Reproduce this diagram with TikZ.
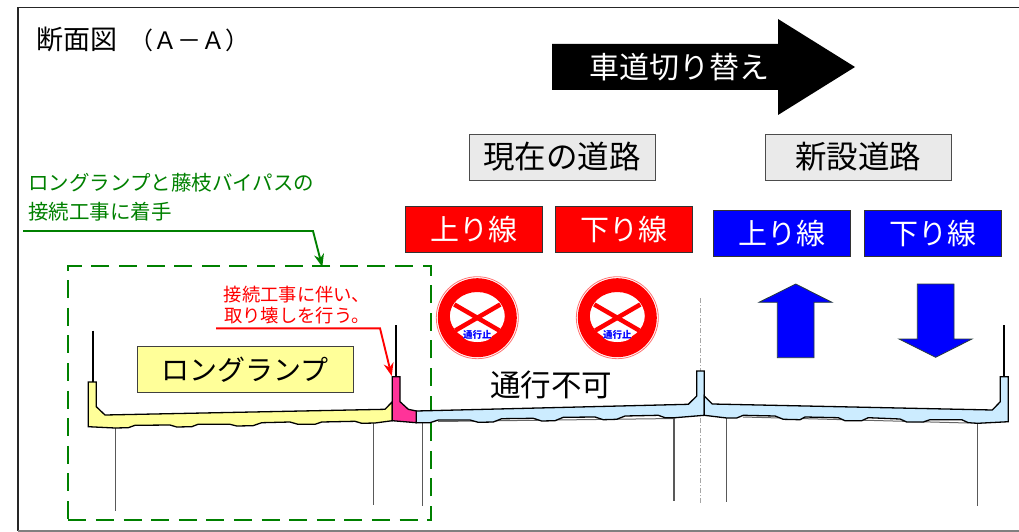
\documentclass[tikz,border=0pt]{standalone}
\usepackage{xcolor}
\usepackage{fontspec}
\setmainfont{Noto Sans CJK JP}
\usetikzlibrary{arrows.meta}
\definecolor{rpGreen}{RGB}{0, 128, 0}
\definecolor{rpRed}{RGB}{255, 0, 0}
\definecolor{rpBlue}{RGB}{0, 0, 255}
\definecolor{rpYellow}{RGB}{255, 255, 153}
\definecolor{rpSky}{RGB}{204, 236, 255}
\definecolor{rpPink}{RGB}{255, 51, 153}
\definecolor{rpLight}{RGB}{234, 234, 234}
\definecolor{rpEdge}{RGB}{40, 60, 60}
\tikzset{
    base/.style={
        align=center,
        inner sep=0pt
    },
    title/.style={
        base,
        font=\fontsize{27}{30}\selectfont
    },
    roadbox/.style={
        base,
        rectangle,
        draw=black!70,
        fill=rpLight,
        line width=1pt,
        minimum width=186pt,
        minimum height=46pt,
        font=\fontsize{31.5}{34}\selectfont
    },
    lane/.style={
        base,
        rectangle,
        draw=black!80,
        line width=1pt,
        text=white,
        minimum width=137pt,
        minimum height=46pt,
        font=\fontsize{29}{32}\selectfont
    },
    redlane/.style={
        lane,
        fill=rpRed
    },
    bluelane/.style={
        lane,
        fill=rpBlue
    },
    note/.style={
        base,
        font=\fontsize{20.5}{29.5}\selectfont,
        text=rpGreen,
        align=left
    },
    rednote/.style={
        base,
        font=\fontsize{18.3}{21.5}\selectfont,
        text=rpRed
    },
    leader/.style={
        -{Stealth[length=13pt,width=10pt]},
        line width=1.9pt
    },
    deck/.style={
        draw=black,
        line width=1.3pt,
        line join=miter
    },
    pier/.style={
        draw=black!65,
        line width=1.2pt
    },
    rail/.style={
        draw=black,
        line width=2pt
    },
    flowarrow/.style={
        draw=rpEdge,
        fill=rpBlue,
        line width=0.8pt
    }
}

\begin{document}
\begin{tikzpicture}[x=1pt,y=-1pt]
  \useasboundingbox (0,0) rectangle (1019,532);
  \draw[black!85,line width=1.5pt] (18,7.5) -- (1019,7.5);
  \draw[black!85,line width=1.5pt] (18,7.5) -- (18,531);
  \draw[black!50,line width=1.8pt] (18,531) -- (1019,531);

  \node[title,anchor=west] (sectionTitle) at (36,39) {断面図\hspace{12pt}{\fontsize{24}{30}\selectfont （Ａ－Ａ）}};

  \fill[black] (552,44) -- (778,44) -- (778,19) -- (855,67) -- (778,115) -- (778,90) -- (552,90) -- cycle;
  \node[base,text=white,font=\fontsize{30}{33}\selectfont] (switchLabel) at (679,67) {車道切り替え};

  \node[roadbox] (oldRoad) at (562,157) {現在の道路};
  \node[roadbox] (newRoad) at (858,157) {新設道路};
  \node[redlane] (oldUp) at (473.5,229) {上り線};
  \node[redlane] (oldDown) at (623.5,229) {下り線};
  \node[bluelane] (newUp) at (781.5,233) {上り線};
  \node[bluelane] (newDown) at (932.5,233) {下り線};

  \node[note,anchor=north west] (greenNote) at (28,173) {ロングランプと藤枝バイパスの\\接続工事に着手};
  \coordinate (greenStart) at (23,231);
  \coordinate (greenBend) at (313,231);
  \coordinate (greenTip) at (322.3,267);
  \draw[leader,rpGreen] (greenStart) -- (greenBend) -- (greenTip);
  \node[draw=rpGreen,line width=2pt,dash pattern=on 18pt off 9.6pt,minimum width=362.7pt,minimum height=254pt,inner sep=0pt] (workZone) at (249.7,393) {};

  \foreach \cx/\name in {477.3/signA,617.3/signB}{
    \node[circle,draw=rpRed!55,fill=white,line width=0.8pt,minimum size=82pt,inner sep=0pt] (\name) at (\cx,317.7) {};
    \fill[rpRed,even odd rule] (\cx,317.7) circle (39.5) (\cx,316) ellipse (27.5 and 24);
    \draw[rpRed,line width=4.5pt] (\cx-23,304.5) -- (\cx+22,330.5);
    \draw[rpRed,line width=4.5pt] (\cx+23,304.5) -- (\cx-22,330.5);
    \fill[white] (\cx,335) ellipse (15 and 7);
    \node[base,text=rpBlue,font=\bfseries\fontsize{9.5}{10}\selectfont] at (\cx,335) {通行止};
  }

  \node[base,font=\fontsize{30.5}{33}\selectfont] (closedLabel) at (551,385) {通行不可};

  \draw[pier] (115.7,428) -- (115.7,511);
  \draw[pier] (373.7,423) -- (373.7,505);
  \draw[pier] (422.7,423) -- (422.7,505.5);
  \draw[pier] (674,418) -- (674,501);
  \draw[pier] (726.7,418) -- (726.7,501.5);
  \draw[pier] (977.7,423) -- (977.7,505.5);
  \draw[black!35,line width=0.7pt,dash pattern=on 5pt off 2pt on 1pt off 2pt] (700.3,298) -- (700.3,503);

  \draw[rail] (93,330.5) -- (93,382);
  \draw[rail] (396.3,325) -- (396.3,376.7);
  \draw[rail] (1004.3,325) -- (1004.3,376.7);

  \draw[black!60,line width=1pt] (438,421.5) -- (675,418.5);
  \draw[black!60,line width=1pt] (743,417) -- (968,423);

  \draw[deck,fill=rpYellow] (88.3,382) -- (96.3,382) -- (96.3,406.7) -- (105,415) -- (385,409.3) -- (392.3,401.7)
    -- (392.3,420.7) -- (375,423) -- (361.7,423.3) -- (355,421.3) -- (321.7,422) -- (315,424.3) -- (298,424.3)
    -- (290,422) -- (261.7,422.7) -- (253,425.7) -- (236.7,426) -- (230,424.3) -- (198,424.3) -- (191.7,426.7)
    -- (176.7,427) -- (170,425) -- (135,425.3) -- (128.3,427.7) -- (115,428) -- (88.3,426.7) -- cycle;
  \draw[deck,fill=rpSky] (416.3,411) -- (688.3,404.3) -- (696.7,396) -- (696.7,371) -- (704.3,371) -- (704.3,415.3)
    -- (675,417.7) -- (665,417.7) -- (658.3,415.3) -- (625,416) -- (616.7,419.3) -- (603.3,419.7) -- (595,417)
    -- (563.3,417.3) -- (555,420.7) -- (541.7,421) -- (533.3,418.3) -- (501.7,418.7) -- (493.3,422) -- (478.3,422.3)
    -- (470,420) -- (438.3,420) -- (430,422.7) -- (416.3,422.7) -- cycle;
  \draw[deck,fill=rpSky] (704.3,396) -- (712.3,404) -- (992.3,410) -- (1000.3,401.7) -- (1000.3,376.7) -- (1008.3,376.7)
    -- (1008.3,421.7) -- (977.7,423.3) -- (968.3,422.7) -- (961.7,419.7) -- (930,419.7) -- (923.3,422) -- (906.7,422)
    -- (900,419) -- (868.3,417.7) -- (861.7,420.7) -- (845,420.7) -- (838.3,417.7) -- (805,417) -- (800,419.7)
    -- (783.3,419.3) -- (775,416) -- (743.3,415.3) -- (736.7,418) -- (726.7,418) -- (704.3,415.3) -- cycle;
  \draw[deck,fill=rpPink] (392.3,376.7) -- (400,376.7) -- (400,401.7) -- (408.3,409.3) -- (416.3,411) -- (416.3,422.7) -- (392.3,420.7) -- cycle;

  \node[base,draw=black!75,fill=rpYellow,line width=1pt,minimum width=216pt,minimum height=45.6pt,font=\fontsize{28}{32}\selectfont] (rampLabel) at (245.3,369.5) {ロングランプ};

  \node[rednote] (redNote) at (297,305) {接続工事に伴い、\\取り壊しを行う。};
  \coordinate (redStart) at (216,328.3);
  \coordinate (redBend) at (380,328.3);
  \coordinate (redTip) at (391.7,376);
  \draw[leader,rpRed] (redStart) -- (redBend) -- (redTip);

  \draw[flowarrow] (795.7,284) -- (832,302.3) -- (814,302.3) -- (814,357.7) -- (777.3,357.7) -- (777.3,302.3) -- (759,302.3) -- cycle;
  \draw[flowarrow] (935.7,357.3) -- (972,339) -- (954,339) -- (954,284) -- (917.3,284) -- (917.3,339) -- (899,339) -- cycle;
\end{tikzpicture}
\end{document}
